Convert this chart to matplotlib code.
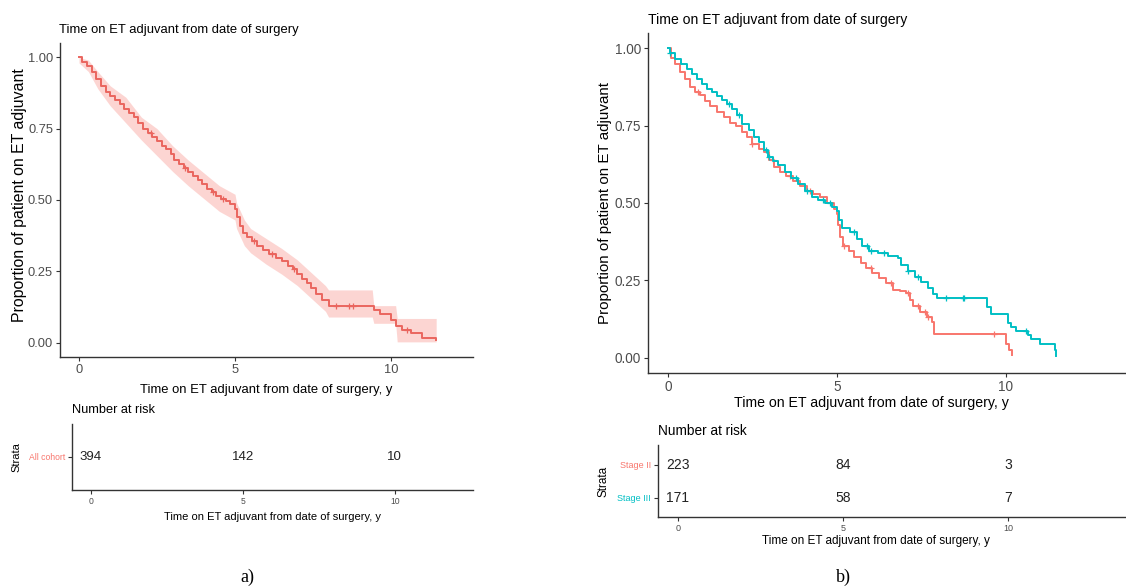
import numpy as np
import matplotlib.pyplot as plt

plt.rcParams['font.family'] = ['Liberation Sans', 'DejaVu Sans']

RED = '#F8766D'
TEAL = '#00BFC4'

# a) all cohort, KM estimate
all_t = [0.00, 0.10, 0.25, 0.40, 0.55, 0.70, 0.85, 1.00, 1.15, 1.30, 1.45, 1.60,
         1.75, 1.90, 2.05, 2.20, 2.35, 2.50, 2.65, 2.80, 2.95, 3.05, 3.20, 3.35,
         3.50, 3.65, 3.80, 3.95, 4.10, 4.25, 4.40, 4.55, 4.70, 4.85, 5.00, 5.05,
         5.15, 5.25, 5.40, 5.55, 5.70, 5.90, 6.10, 6.30, 6.50, 6.70, 6.85, 7.00,
         7.15, 7.30, 7.45, 7.60, 7.80, 8.00, 9.45, 9.65, 10.00, 10.15, 10.35,
         10.65, 11.00, 11.45]
all_s = [1.000, 0.985, 0.970, 0.950, 0.925, 0.900, 0.880, 0.865, 0.850, 0.835,
         0.820, 0.805, 0.790, 0.770, 0.750, 0.735, 0.720, 0.705, 0.690, 0.680,
         0.660, 0.640, 0.625, 0.612, 0.598, 0.585, 0.570, 0.555, 0.540, 0.528,
         0.515, 0.505, 0.495, 0.485, 0.470, 0.440, 0.410, 0.385, 0.370, 0.355,
         0.340, 0.325, 0.310, 0.298, 0.285, 0.268, 0.260, 0.240, 0.225, 0.210,
         0.190, 0.170, 0.150, 0.128, 0.115, 0.102, 0.080, 0.060, 0.045, 0.033,
         0.018, 0.008]
all_censor = [2.3, 3.4, 4.3, 4.6, 5.6, 6.2, 6.9, 8.25, 8.67, 8.77, 10.5]

# confidence band of a)
band_t = [0.0, 0.3, 0.6, 1.0, 1.5, 2.0, 2.5, 3.0, 3.5, 4.0, 4.5, 5.0, 5.05, 5.3,
          5.5, 6.0, 6.5, 7.0, 7.5, 7.9, 8.0, 9.4, 9.45, 10.15, 10.2, 11.45]
band_lo = [0.98, 0.95, 0.89, 0.83, 0.77, 0.71, 0.655, 0.60, 0.55, 0.505, 0.46,
           0.43, 0.40, 0.34, 0.315, 0.275, 0.24, 0.20, 0.15, 0.11, 0.09, 0.09,
           0.068, 0.068, 0.003, 0.003]
band_hi = [1.00, 0.99, 0.95, 0.90, 0.86, 0.79, 0.75, 0.69, 0.64, 0.595, 0.55,
           0.52, 0.49, 0.43, 0.40, 0.365, 0.33, 0.29, 0.24, 0.20, 0.185, 0.185,
           0.13, 0.13, 0.085, 0.085]

# b) Stage II
s2_t = [0.00, 0.10, 0.20, 0.35, 0.50, 0.65, 0.80, 0.95, 1.10, 1.25, 1.45, 1.65,
        1.85, 2.00, 2.20, 2.35, 2.50, 2.70, 2.85, 3.00, 3.15, 3.30, 3.50, 3.70,
        3.90, 4.10, 4.30, 4.50, 4.70, 4.90, 5.00, 5.03, 5.10, 5.18, 5.35, 5.50,
        5.70, 5.85, 6.05, 6.25, 6.45, 6.65, 6.85, 7.05, 7.15, 7.25, 7.45, 7.65,
        7.80, 7.88, 10.00, 10.10, 10.18]
s2_s = [1.000, 0.970, 0.950, 0.925, 0.900, 0.875, 0.860, 0.850, 0.830, 0.815,
        0.795, 0.777, 0.760, 0.748, 0.730, 0.715, 0.690, 0.675, 0.665, 0.640,
        0.615, 0.600, 0.588, 0.572, 0.555, 0.540, 0.530, 0.520, 0.500, 0.480,
        0.465, 0.430, 0.390, 0.360, 0.345, 0.325, 0.305, 0.290, 0.275, 0.258,
        0.240, 0.220, 0.215, 0.208, 0.185, 0.167, 0.148, 0.130, 0.115, 0.077,
        0.045, 0.025, 0.008]
s2_censor = [0.9, 2.5, 3.1, 3.6, 4.2, 5.2, 6.0, 6.6, 7.1, 7.4, 7.6, 7.7, 9.66]

# b) Stage III
s3_t = [0.00, 0.05, 0.20, 0.40, 0.55, 0.70, 0.85, 1.00, 1.15, 1.30, 1.45, 1.60,
        1.75, 1.90, 2.05, 2.20, 2.40, 2.55, 2.70, 2.85, 2.95, 3.10, 3.25, 3.45,
        3.65, 3.85, 4.05, 4.25, 4.45, 4.65, 4.85, 5.00, 5.05, 5.15, 5.40, 5.60,
        5.75, 5.95, 6.20, 6.50, 6.80, 6.90, 7.10, 7.30, 7.50, 7.70, 7.85, 7.95,
        9.43, 9.55, 10.05, 10.15, 10.30, 10.65, 10.75, 11.00, 11.45, 11.48]
s3_s = [1.000, 0.985, 0.965, 0.950, 0.935, 0.918, 0.900, 0.885, 0.870, 0.858,
        0.847, 0.832, 0.820, 0.805, 0.785, 0.755, 0.735, 0.715, 0.698, 0.670,
        0.650, 0.635, 0.622, 0.600, 0.580, 0.560, 0.540, 0.520, 0.510, 0.500,
        0.488, 0.475, 0.445, 0.420, 0.405, 0.385, 0.360, 0.345, 0.338, 0.330,
        0.322, 0.300, 0.280, 0.262, 0.243, 0.225, 0.205, 0.193, 0.165, 0.140,
        0.113, 0.100, 0.085, 0.072, 0.060, 0.045, 0.025, 0.005]
s3_censor = [0.05, 1.8, 2.1, 2.9, 3.0, 3.8, 4.1, 4.6, 4.8, 5.5, 5.9, 6.0, 6.4,
             7.1, 7.4, 8.23, 8.72, 8.77, 10.6]

risk_times = [0, 5, 10]
risk_all = [394, 142, 10]
risk_s2 = [223, 84, 3]
risk_s3 = [171, 58, 7]

title_txt = 'Time on ET adjuvant from date of surgery'
xlab_txt = 'Time on ET adjuvant from date of surgery, y'
ylab_txt = 'Proportion of patient on ET adjuvant'

W, H = 1126, 588
fig = plt.figure(figsize=(W / 100, H / 100), dpi=100)


def box(x0, y0, x1, y1):
    # pixel box -> figure fraction
    return [x0 / W, 1 - y1 / H, (x1 - x0) / W, (y1 - y0) / H]


def style(ax, fs):
    for sp in ['top', 'right']:
        ax.spines[sp].set_visible(False)
    for sp in ['left', 'bottom']:
        ax.spines[sp].set_color('#333333')
        ax.spines[sp].set_linewidth(1.0)
    ax.tick_params(colors='#333333', labelcolor='#4D4D4D', length=3, width=0.8,
                   labelsize=fs, pad=2)


def step_at(t, s, x):
    i = np.searchsorted(t, x, side='right') - 1
    return np.array(s)[i]


def km(ax, t, s, cens, color):
    ax.step(t, s, where='post', color=color, lw=1.4)
    ax.plot(cens, step_at(t, s, cens), ls='none', marker='+', ms=5, mew=0.9,
            color=color)


# ---- a) main ----
ax1 = fig.add_axes(box(60, 43, 473, 357))
style(ax1, 9.3)
ax1.fill_between(band_t, band_lo, band_hi, color=RED, alpha=0.3, lw=0)
km(ax1, all_t, all_s, all_censor, '#EA655E')
ax1.set_xlim(-0.61, 12.63)
ax1.set_ylim(-0.05, 1.05)
ax1.set_xticks([0, 5, 10])
ax1.set_yticks([0, 0.25, 0.5, 0.75, 1.0])
ax1.set_yticklabels(['0.00', '0.25', '0.50', '0.75', '1.00'])
ax1.set_xlabel(xlab_txt, fontsize=9.4)
ax1.xaxis.set_label_coords(0.5, -0.086)
ax1.set_ylabel(ylab_txt, fontsize=11.4)
ax1.yaxis.set_label_coords(-0.08, 0.516)
fig.text(59 / W, 1 - 30 / H, title_txt, fontsize=9.4, va='center', ha='left')

# ---- a) risk table ----
ar1 = fig.add_axes(box(72, 424, 473, 490))
style(ar1, 6.2)
ar1.set_xlim(-0.62, 12.57)
ar1.set_ylim(0.5, 1.5)
for t, n in zip(risk_times, risk_all):
    ar1.text(t, 1, str(n), ha='center', va='center', fontsize=9.5, color='#222222')
ar1.set_xticks(risk_times)
ar1.set_yticks([1])
ar1.set_yticklabels(['All cohort'], fontsize=6.2)
ar1.get_yticklabels()[0].set_color(RED)
ar1.set_xlabel(xlab_txt, fontsize=8.0)
ar1.xaxis.set_label_coords(0.5, -0.33)
ar1.set_ylabel('Strata', fontsize=8.0)
ar1.yaxis.set_label_coords(-0.125, 0.5)
fig.text(72 / W, 1 - 410 / H, 'Number at risk', fontsize=9.2, va='center', ha='left')

# ---- b) main ----
ax2 = fig.add_axes(box(648, 33, 1126, 373))
style(ax2, 9.8)
km(ax2, s2_t, s2_s, s2_censor, RED)
km(ax2, s3_t, s3_s, s3_censor, TEAL)
ax2.set_xlim(-0.59, 13.55)
ax2.set_ylim(-0.05, 1.05)
ax2.set_xticks([0, 5, 10])
ax2.set_yticks([0, 0.25, 0.5, 0.75, 1.0])
ax2.set_yticklabels(['0.00', '0.25', '0.50', '0.75', '1.00'])
ax2.set_ylabel(ylab_txt, fontsize=10.9)
ax2.yaxis.set_label_coords(-0.075, 0.5)
fig.text(871 / W, 1 - 403 / H, xlab_txt, fontsize=10.2, va='center', ha='center')
fig.text(648 / W, 1 - 20 / H, title_txt, fontsize=10.1, va='center', ha='left')

# ---- b) risk table ----
ar2 = fig.add_axes(box(658, 445, 1126, 517))
style(ar2, 6.5)
ar2.set_xlim(-0.6, 13.57)
ar2.set_ylim(0.42, 2.6)
for t, n2, n3 in zip(risk_times, risk_s2, risk_s3):
    ar2.text(t, 2, str(n2), ha='center', va='center', fontsize=10, color='#222222')
    ar2.text(t, 1, str(n3), ha='center', va='center', fontsize=10, color='#222222')
ar2.set_xticks(risk_times)
ar2.set_yticks([2, 1])
ar2.set_yticklabels(['Stage II', 'Stage III'], fontsize=6.5)
ar2.get_yticklabels()[0].set_color(RED)
ar2.get_yticklabels()[1].set_color(TEAL)
ar2.set_ylabel('Strata', fontsize=8.5)
ar2.yaxis.set_label_coords(-0.103, 0.5)
fig.text(876 / W, 1 - 541 / H, xlab_txt, fontsize=8.5, va='center', ha='center')
fig.text(658 / W, 1 - 431 / H, 'Number at risk', fontsize=9.8, va='center', ha='left')

# panel letters
fig.text(247 / W, 1 - 577 / H, 'a)', fontsize=13, family='Liberation Serif',
         ha='center', va='center')
fig.text(843 / W, 1 - 577 / H, 'b)', fontsize=13, family='Liberation Serif',
         ha='center', va='center')

fig.savefig('out.png', dpi=100)
